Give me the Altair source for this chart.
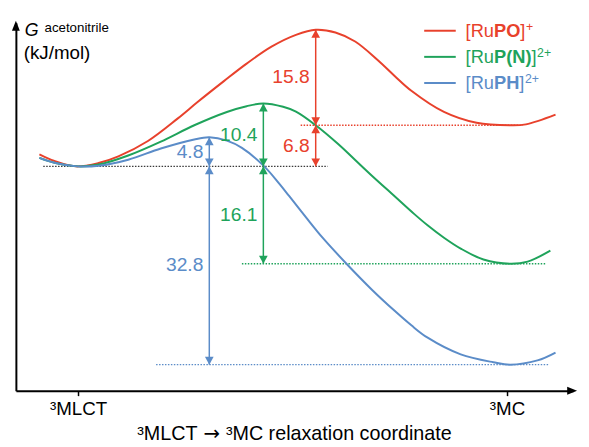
import altair as alt
import pandas as pd

FONT = "Liberation Sans"

# ---------------- data ----------------
keys = ["RuPO", "RuPN", "RuPH"]
colors = ["#E8412C", "#1FA35B", "#5B8CC8"]
ref_key = "ref"
ref_color = "#3a3a3a"

# energy profiles: x = relaxation coordinate (0 = 3MLCT, 100 = 3MC), g = G / kJ mol-1
po_x = [-9.0, -5.5, -0.5, 4.8, 9.4, 16.3, 23.2, 27.8, 34.0, 39.3, 45.1, 50.8, 55.4,
        60.0, 64.6, 69.9, 73.8, 77.7, 85.3, 92.9, 100.7, 104.4, 111.3]
po_g = [2.0, 0.9, 0.0, 0.55, 1.65, 4.2, 7.9, 10.6, 14.1, 17.0, 19.8, 21.75, 22.6,
        22.15, 20.65, 17.55, 14.95, 12.5, 9.0, 7.2, 6.8, 6.95, 8.55]

pn_x = [-9.0, -5.5, 0.2, 4.8, 11.7, 19.3, 27.1, 34.7, 39.3, 43.2, 47.8, 50.8, 55.4,
        60.7, 64.6, 68.5, 73.8, 78.4, 81.4, 85.3, 89.2, 94.5, 100.7, 104.8, 110.1]
pn_g = [1.4, 0.6, 0.0, 0.3, 1.8, 4.1, 6.8, 9.0, 9.95, 10.4, 9.85, 9.05, 6.8,
        3.65, 1.05, -1.55, -4.95, -7.9, -9.7, -11.8, -13.6, -15.4, -16.1, -15.75, -13.95]

ph_x = [-9.0, -5.5, -0.2, 4.8, 11.7, 19.3, 27.1, 30.6, 34.7, 38.2, 43.4, 46.9,
        49.2, 53.1, 57.0, 62.3, 68.5, 73.8, 77.7, 81.4, 89.2, 96.8, 100.7, 107.1, 111.3]
ph_g = [1.4, 0.6, 0.0, 0.1, 1.1, 2.95, 4.45, 4.8, 4.25, 3.05, 0.0, -2.85,
        -4.9, -8.4, -11.8, -15.9, -20.4, -23.9, -26.3, -28.3, -31.1, -32.4, -32.8, -32.1, -30.8]

# barrier / driving-force arrows
arrow_key = ["RuPO", "RuPO", "RuPN", "RuPN", "RuPH", "RuPH"]
arrow_x = [55.4, 55.4, 43.2, 43.2, 30.6, 30.6]
arrow_top = [22.6, 6.8, 10.4, 0.0, 4.8, 0.0]
arrow_bot = [6.8, 0.0, 0.0, -16.1, 0.0, -32.8]
arrow_text = ["15.8", "6.8", "10.4", "16.1", "4.8", "32.8"]

# dotted reference levels
level_key = ["ref", "RuPO", "RuPN", "RuPH"]
level_g = [0.0, 6.8, -16.1, -32.8]
level_x1 = [-8.1, 51.9, 38.2, 18.2]
level_x2 = [58.2, 103.7, 109.0, 109.9]

# axis
tick_values = [0, 100]
tick_labels = ["³MLCT", "³MC"]
x_title_parts = ["³MLCT", "→", "³MC relaxation coordinate"]

# legend text parts
legend_pre = ["[Ru", "[Ru", "[Ru"]
legend_bold = ["PO", "P(N)", "PH"]
legend_post = ["]", "]", "]"]
legend_sup = ["+", "2+", "2+"]

# ---------------- frames ----------------
curves = pd.concat([
    pd.DataFrame({"key": k, "x": xs, "g": gs, "i": list(range(len(xs)))})
    for k, xs, gs in [("RuPO", po_x, po_g), ("RuPN", pn_x, pn_g), ("RuPH", ph_x, ph_g)]
], ignore_index=True)
arrows = pd.DataFrame({"key": arrow_key, "x": arrow_x, "top": arrow_top,
                       "bot": arrow_bot, "label": arrow_text})
levels = pd.DataFrame({"key": level_key, "g": level_g, "x": level_x1, "x2": level_x2})
one = pd.DataFrame({"d": [0]})

# ---------------- layout ----------------
W, H = 565, 373
xmin, xmax = -14.48, 115.4
ymin, ymax = -37.11, 23.74

xscale = alt.Scale(domain=[xmin, xmax], nice=False, zero=False)
yscale = alt.Scale(domain=[ymin, ymax], nice=False, zero=False)
xaxis = alt.Axis(values=tick_values,
                 labelExpr="datum.value == 0 ? '%s' : '%s'" % tuple(tick_labels),
                 title=None, grid=False, domainColor="black", domainWidth=2,
                 tickColor="black", tickWidth=1.5, tickSize=5,
                 labelFont=FONT, labelFontSize=19, labelColor="black", labelPadding=4)
yaxis = alt.Axis(title=None, labels=False, ticks=False, grid=False,
                 domainColor="black", domainWidth=2)


def X(f="x"):
    return alt.X(f"{f}:Q", scale=xscale, axis=xaxis)


def Y(f):
    return alt.Y(f"{f}:Q", scale=yscale, axis=yaxis)


color = alt.Color("key:N", scale=alt.Scale(domain=keys + [ref_key], range=colors + [ref_color]),
                  legend=None)

lvl = alt.Chart(levels).mark_rule(strokeDash=[1.5, 1.5], strokeWidth=1.4).encode(
    x=X(), x2="x2:Q", y=Y("g"), color=color)

lines = alt.Chart(curves).mark_line(interpolate="catmull-rom", strokeWidth=2).encode(
    x=X(), y=Y("g"), color=color, order="i:Q")

arr = alt.Chart(arrows).mark_rule(strokeWidth=1.5).encode(
    x=X(), y=Y("top"), y2="bot:Q", color=color)

head_up = alt.Chart(arrows).mark_point(shape="M0,0L-0.55,1L0.55,1Z", filled=True, size=256,
                                       opacity=1, strokeWidth=0).encode(
    x=X(), y=Y("top"), color=color)
head_dn = alt.Chart(arrows).mark_point(shape="M0,0L-0.55,-1L0.55,-1Z", filled=True, size=256,
                                       opacity=1, strokeWidth=0).encode(
    x=X(), y=Y("bot"), color=color)

labels = alt.Chart(arrows).transform_calculate(mid="(datum.top + datum.bot) / 2").mark_text(
    align="right", baseline="middle", dx=-6, font=FONT, fontSize=19.5).encode(
    x=X(), y=Y("mid"), text="label:N", color=color)

# axis arrowheads
ax_arrow_x = alt.Chart(one).mark_point(shape="M1,0L-1,-0.8L-1,0.8Z", filled=True, size=100,
                                       opacity=1, color="black", strokeWidth=0).encode(
    x=alt.value(W - 1), y=alt.value(H))
ax_arrow_y = alt.Chart(one).mark_point(shape="M0,-1L-0.8,1L0.8,1Z", filled=True, size=100,
                                       opacity=1, color="black", strokeWidth=0).encode(
    x=alt.value(0), y=alt.value(3))

layers = [lvl, lines, arr, head_up, head_dn, labels, ax_arrow_x, ax_arrow_y]


def txt(s, x, y, size, col="black", weight="normal", style="normal", font=FONT):
    return alt.Chart(one).mark_text(text=s, align="left", baseline="alphabetic", font=font,
                                    fontSize=size, fontWeight=weight, fontStyle=style,
                                    color=col).encode(x=alt.value(x), y=alt.value(y))


W_REG = {"[": 278, "]": 278, "R": 722, "u": 556, "+": 584, "2": 556, " ": 278, "³": 333,
         "M": 833, "L": 556, "C": 722, "T": 611, "r": 333, "e": 556, "l": 222, "a": 556,
         "x": 500, "t": 278, "i": 222, "o": 556, "n": 556, "c": 500, "d": 556}
W_BOLD = {"P": 667, "O": 778, "N": 722, "H": 722, "(": 333, ")": 333}


def width(s, table, size):
    return sum(table[c] for c in s) * size / 1000.0


# y-axis title
layers += [txt("G", 9, 13.5, 18, style="italic"),
           txt("acetonitrile", 29, 9, 13.5),
           txt("(kJ/mol)", 8, 36.5, 19)]

# x-axis title (arrow drawn with DejaVu Sans for a full-width arrow glyph)
TFS = 20
gap = 0.3 * TFS
arrow_w = 0.838 * TFS
w0 = width(x_title_parts[0], W_REG, TFS)
w2 = width(x_title_parts[2], W_REG, TFS)
total = w0 + gap + arrow_w + gap + w2
tx = W / 2 - total / 2
ty = H + 50
layers.append(txt(x_title_parts[0], tx, ty, TFS))
layers.append(txt(x_title_parts[1], tx + w0 + gap, ty, TFS, font="DejaVu Sans"))
layers.append(txt(x_title_parts[2], tx + w0 + gap + arrow_w + gap, ty, TFS))

# legend (hand-built for mixed bold / superscript text)
LFS = 18.5
row_y = [8, 34.5, 61]
for k, c, pre, bold, post, sup, ly in zip(keys, colors, legend_pre, legend_bold,
                                          legend_post, legend_sup, row_y):
    layers.append(alt.Chart(one).mark_rule(color=c, strokeWidth=2).encode(
        x=alt.value(414), x2=alt.value(446), y=alt.value(ly)))
    bx = ly + 6.5
    x0 = 456
    layers.append(txt(pre, x0, bx, LFS, c))
    x1 = x0 + width(pre, W_REG, LFS)
    layers.append(txt(bold, x1, bx, LFS, c, weight="bold"))
    x2 = x1 + width(bold, W_BOLD, LFS)
    layers.append(txt(post, x2, bx, LFS, c))
    x3 = x2 + width(post, W_REG, LFS) + 0.5
    layers.append(txt(sup, x3, bx - 6, 12.5, c))

chart = alt.layer(*layers).properties(
    width=W, height=H,
    autosize=alt.AutoSizeParams(type="none"),
    padding={"left": 8, "top": 12, "right": 8, "bottom": 52},
).configure_view(stroke=None)

chart.save("out.html", embed_options={"renderer": "svg", "actions": False})
